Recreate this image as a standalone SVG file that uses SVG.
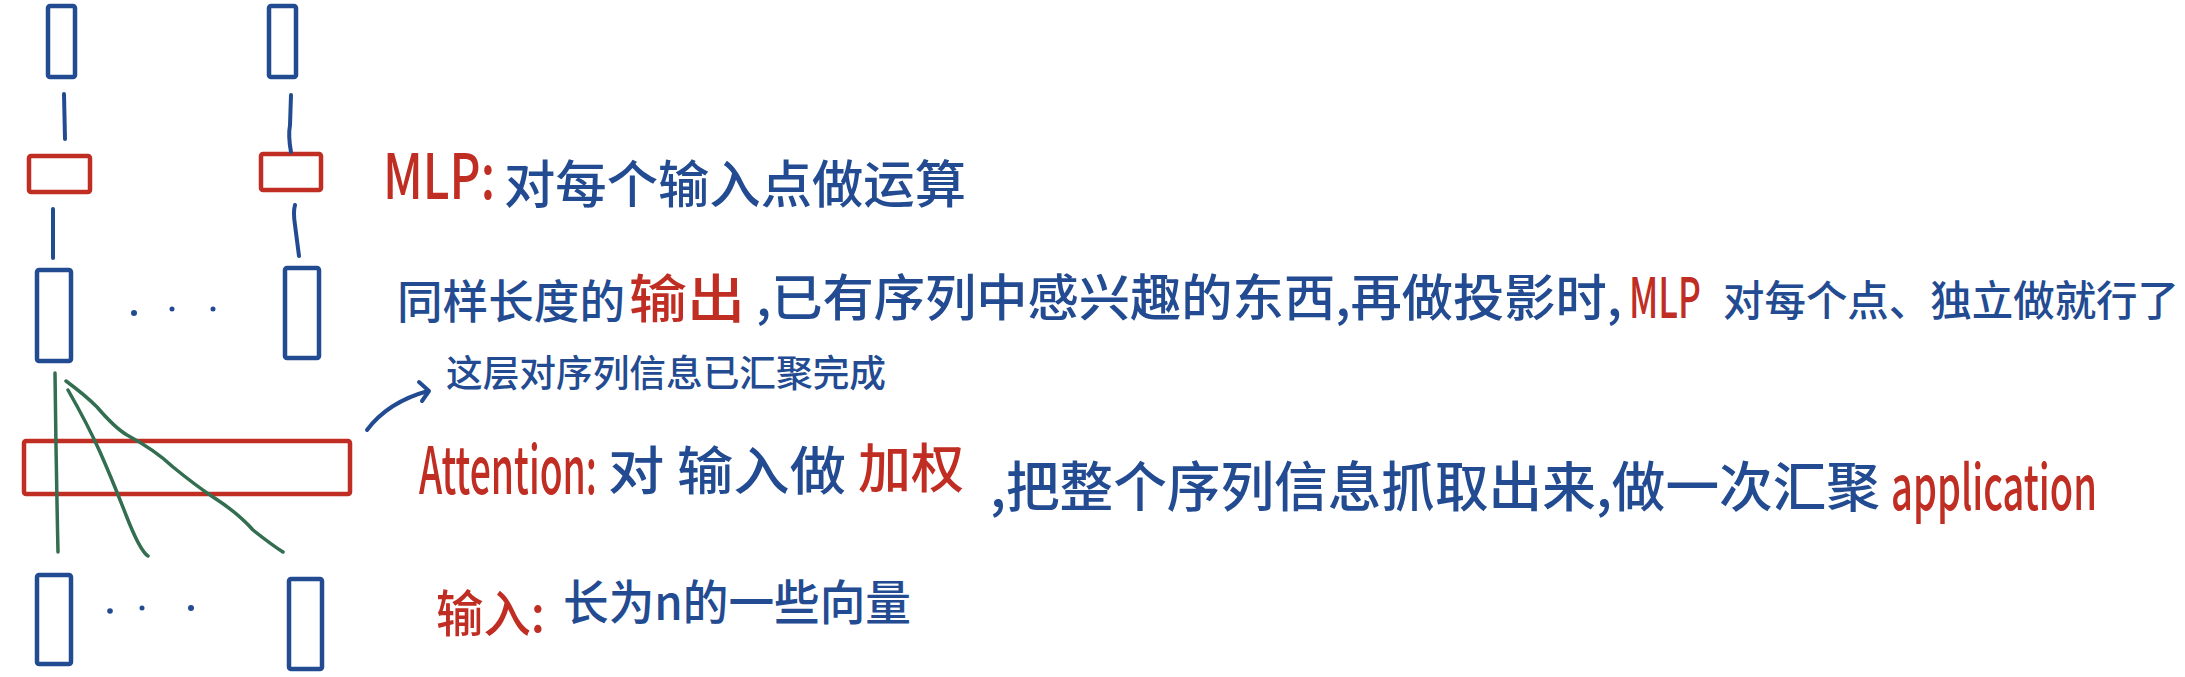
<svg xmlns="http://www.w3.org/2000/svg" width="2185" height="677" viewBox="0 0 2185 677">
  <style>
    .bg { fill: #ffffff; }
    .box-blue { fill: none; stroke: #234b91; stroke-width: 4.5; stroke-linejoin: round; }
    .box-red { fill: none; stroke: #c02d23; stroke-width: 4.5; stroke-linejoin: round; }
    .dot { fill: #234b91; }
    .line-blue { fill: none; stroke: #234b91; stroke-width: 4; stroke-linecap: round; stroke-linejoin: round; }
    .line-green { fill: none; stroke: #336e50; stroke-width: 3.5; stroke-linecap: round; stroke-linejoin: round; }
    .t { font-family: "Noto Sans CJK SC", "Noto Sans", sans-serif; font-weight: 500; }
    .blue { fill: #234b91; }
    .red { fill: #c02d23; }
  </style>
  <rect class="bg" x="0" y="0" width="2185" height="677"/>

  <!-- nodes -->
  <g id="out-left"><rect class="box-blue" x="48" y="6" width="27" height="71" rx="2"/></g>
  <g id="out-right"><rect class="box-blue" x="269" y="6" width="27" height="71" rx="2"/></g>
  <g id="mlp-left"><rect class="box-red" x="29" y="156" width="61" height="36" rx="2"/></g>
  <g id="mlp-right"><rect class="box-red" x="261" y="154" width="60" height="36" rx="2"/></g>
  <g id="mid-left"><rect class="box-blue" x="37" y="270" width="34" height="91" rx="2"/></g>
  <g id="mid-right"><rect class="box-blue" x="285" y="268" width="34" height="90" rx="2"/></g>
  <g id="mid-dots">
    <circle class="dot" cx="134" cy="313" r="3"/>
    <circle class="dot" cx="172" cy="309" r="2.5"/>
    <circle class="dot" cx="213" cy="309" r="2.5"/>
  </g>
  <g id="attention"><rect class="box-red" x="24" y="441" width="326" height="53" rx="2"/></g>
  <g id="in-left"><rect class="box-blue" x="37" y="575" width="34" height="89" rx="2"/></g>
  <g id="in-right"><rect class="box-blue" x="289" y="579" width="33" height="90" rx="2"/></g>
  <g id="in-dots">
    <circle class="dot" cx="110" cy="611" r="2.8"/>
    <circle class="dot" cx="142" cy="608" r="2.5"/>
    <circle class="dot" cx="191" cy="608" r="3"/>
  </g>

  <!-- connectors -->
  <g id="connectors">
    <path class="line-blue" d="M64,94 L65,139"/>
    <path class="line-blue" d="M291,95 L290,125 Q288,136 291,152"/>
    <path class="line-blue" d="M53,209 L53,258"/>
    <path class="line-blue" d="M295,205 Q293,212 295,225 L299,256"/>
    <path class="line-green" d="M55,373 Q56,460 58,552"/>
    <path class="line-green" d="M68,390 Q88,425 100,452 T126,515 T148,556"/>
    <path class="line-green" d="M66,381 Q85,395 97,407 Q115,428 127,435 Q155,450 173,467 Q195,485 213,497 Q238,513 253,530 Q272,545 283,552"/>
    <path class="line-blue" d="M367,430 Q388,402 428,391"/>
    <path class="line-blue" d="M419,382 L429,391 L422,401"/>
  </g>

  <!-- labels -->
  <g id="label-mlp">
    <text class="t red" transform="translate(383,199) scale(1,1.3)" x="0" y="0" font-size="48" textLength="112" lengthAdjust="spacingAndGlyphs">MLP:</text>
    <text class="t blue" x="504" y="203" font-size="51" textLength="462" lengthAdjust="spacingAndGlyphs">对每个输入点做运算</text>
  </g>
  <g id="label-output">
    <text class="t blue" x="397" y="318" font-size="46" textLength="228" lengthAdjust="spacingAndGlyphs">同样长度的</text>
    <text class="t red" x="629" y="318" font-size="52" textLength="116" lengthAdjust="spacingAndGlyphs">输出</text>
    <text class="t blue" x="756" y="316" font-size="50" textLength="866" lengthAdjust="spacingAndGlyphs">,已有序列中感兴趣的东西,再做投影时,</text>
    <text class="t red" transform="translate(1629,318) scale(1,1.55)" x="0" y="0" font-size="36" textLength="72" lengthAdjust="spacingAndGlyphs">MLP</text>
    <text class="t blue" x="1723" y="316" font-size="41.5" textLength="456" lengthAdjust="spacingAndGlyphs">对每个点、独立做就行了</text>
  </g>
  <g id="label-note">
    <text class="t blue" x="446" y="387" font-size="37" textLength="440" lengthAdjust="spacingAndGlyphs">这层对序列信息已汇聚完成</text>
  </g>
  <g id="label-attention">
    <text class="t red" transform="translate(419,494) scale(1,1.7)" x="0" y="0" font-size="38" textLength="178" lengthAdjust="spacingAndGlyphs">Attention:</text>
    <text class="t blue" x="608" y="490" font-size="52" textLength="238" lengthAdjust="spacingAndGlyphs">对 输入做</text>
    <text class="t red" x="858" y="488" font-size="53" textLength="106" lengthAdjust="spacingAndGlyphs">加权</text>
    <text class="t blue" x="990" y="507" font-size="54" textLength="890" lengthAdjust="spacingAndGlyphs">,把整个序列信息抓取出来,做一次汇聚</text>
    <text class="t red" transform="translate(1891,510) scale(1,1.55)" x="0" y="0" font-size="40" textLength="206" lengthAdjust="spacingAndGlyphs">application</text>
  </g>
  <g id="label-input">
    <text class="t red" x="436" y="632" font-size="50" textLength="109" lengthAdjust="spacingAndGlyphs">输入:</text>
    <text class="t blue" x="563" y="620" font-size="48" textLength="348" lengthAdjust="spacingAndGlyphs">长为n的一些向量</text>
  </g>
</svg>
